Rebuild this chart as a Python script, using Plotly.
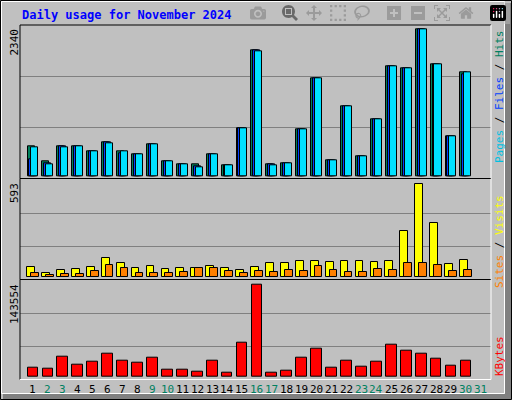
import plotly.graph_objects as go

days = list(range(1, 32))
hits  = [477,231,477,462,385,539,385,339,493,231,185,185,339,169,755,1955,185,200,739,1524,246,1093,308,893,1709,1678,2279,1740,631,1617,None]
files = [262,200,470,462,385,539,354,339,493,231,185,154,339,169,755,1955,185,200,739,1524,246,1093,308,893,1709,1678,2279,1740,631,1586,None]
pages = [447,185,447,462,385,523,385,339,493,231,185,139,339,169,755,1940,169,200,739,1524,246,1093,308,893,1709,1678,2279,1740,631,1617,None]
visits = [60,21,41,47,60,118,86,54,66,47,54,54,66,54,41,60,86,86,98,98,92,98,98,92,98,291,593,342,79,105,None]
sites  = [21,13,15,15,36,73,54,21,21,21,28,54,54,34,21,34,28,41,34,66,41,28,28,47,41,86,86,73,34,41,None]
kbytes = [13100,11530,30400,17800,22500,35100,24100,21000,28800,9960,9960,6800,24100,5240,52400,143554,5240,8380,28800,43000,13100,24100,14700,22500,49300,39800,35100,27200,16200,24100,None]
weekend = {2,3,9,10,16,17,23,24,30,31}

fig = go.Figure()
line = dict(color="black", width=1)
def add(vals, off, w, color, ax):
    fig.add_bar(x=[d + off for d in days], y=vals, width=w, marker=dict(color=color, line=line),
                xaxis="x", yaxis=ax, showlegend=False, hoverinfo="skip")
add(hits, -0.13, 0.47, "#00805C", "y")
add(files, 0.0, 0.47, "#0040FF", "y")
add(pages, 0.13, 0.47, "#00E0FF", "y")
add(visits, -0.13, 0.52, "#FFFF00", "y2")
add(sites, 0.13, 0.52, "#FF8000", "y2")
add(kbytes, 0.0, 0.72, "#FF0000", "y3")

H = 400
def dom(top, bot):
    return [(H - bot) / H, (H - top) / H]

r1 = [-25, 2340]; r2 = [-17, 621]; r3 = [-4716, 149318]
def gl(r):
    s = (r[1] - r[0]) / 3
    return [r[0] + s, r[0] + 2 * s]

fig.update_layout(
    width=512, height=400, margin=dict(l=0, r=0, t=0, b=0),
    paper_bgcolor="#C0C0C0", plot_bgcolor="#C0C0C0", barmode="overlay",
    xaxis=dict(range=[0.13, 31.68], domain=[20/512, 491/512], anchor="y3", showgrid=False,
               zeroline=False, showticklabels=False, ticks=""),
    yaxis=dict(domain=dom(25.3, 178.3), range=r1, tickvals=gl(r1), showgrid=True, gridcolor="#808080",
               zeroline=False, showticklabels=False, ticks=""),
    yaxis2=dict(domain=dom(180, 279.3), range=r2, tickvals=gl(r2), showgrid=True, gridcolor="#808080",
                zeroline=False, showticklabels=False, ticks=""),
    yaxis3=dict(domain=dom(280.7, 379.3), range=r3, tickvals=gl(r3), showgrid=True, gridcolor="#808080",
                zeroline=False, showticklabels=False, ticks=""),
    bargap=0,
)

shapes = []
def rect(x0, y0, x1, y1, **kw):
    shapes.append(dict(type="rect", xref="paper", yref="paper", x0=x0/512, x1=x1/512,
                       y0=(H - y1)/H, y1=(H - y0)/H, **kw))
def ln(x0, y0, x1, y1, c, w=1):
    shapes.append(dict(type="line", xref="paper", yref="paper", x0=x0/512, x1=x1/512,
                       y0=(H - y0)/H, y1=(H - y1)/H, line=dict(color=c, width=w)))
rect(505, 3, 511, 399, fillcolor="#808080", line=dict(width=0), layer="below")
rect(3, 394, 511, 399, fillcolor="#808080", line=dict(width=0), layer="below")
rect(1.5, 1.5, 504.5, 393.5, line=dict(color="white", width=1), layer="below")
rect(0.5, 0.5, 511.5, 399.5, line=dict(color="black", width=1))
for t, b in [(25, 178.5), (178.5, 279.5), (279.5, 379.5)]:
    ln(20, t, 491, t, "black"); ln(20, t, 20, b, "black")
    ln(20, b, 491, b, "white"); ln(491, t, 491, b, "white")
fig.update_layout(shapes=shapes)

mono = "DejaVu Sans Mono"
ann = []
ann.append(dict(text="<b>Daily usage for November 2024</b>", x=20/512, y=(H-15)/H, xanchor="left", yanchor="middle",
                font=dict(family=mono, size=12, color="#0000FF")))
for lbl, ytop in [("2340", 27), ("593", 181), ("143554", 282)]:
    ann.append(dict(text=lbl, x=14/512, y=(H-ytop)/H, xanchor="center", yanchor="top", textangle=-90,
                    font=dict(family=mono, size=11, color="black")))
for d in days:
    ann.append(dict(text=str(d), x=d, xref="x", y=(H-389)/H, xanchor="center", yanchor="middle",
                    font=dict(family=mono, size=11, color="#008060" if d in weekend else "black")))
ann.append(dict(text="<span style='color:#00C0E0'>Pages</span><span style='color:black'> / </span><span style='color:#0040FF'>Files</span><span style='color:black'> / </span><span style='color:#008060'>Hits</span>",
                x=499/512, y=(H-97)/H, xanchor="center", yanchor="middle", textangle=-90, font=dict(family=mono, size=11)))
ann.append(dict(text="<span style='color:#FF8000'>Sites</span><span style='color:black'> / </span><span style='color:#FFFF00'>Visits</span>",
                x=499/512, y=(H-242)/H, xanchor="center", yanchor="middle", textangle=-90, font=dict(family=mono, size=11)))
ann.append(dict(text="KBytes", x=499/512, y=(H-378)/H, xanchor="center", yanchor="bottom", textangle=-90,
                font=dict(family=mono, size=11, color="#FF0000")))
for a in ann:
    a.setdefault("xref", "paper"); a["yref"] = "paper"; a["showarrow"] = False
fig.update_layout(annotations=ann)

fig.write_html("out.html",
               post_script="document.body.style.margin='0';document.body.style.overflow='hidden';document.documentElement.style.overflow='hidden';")
